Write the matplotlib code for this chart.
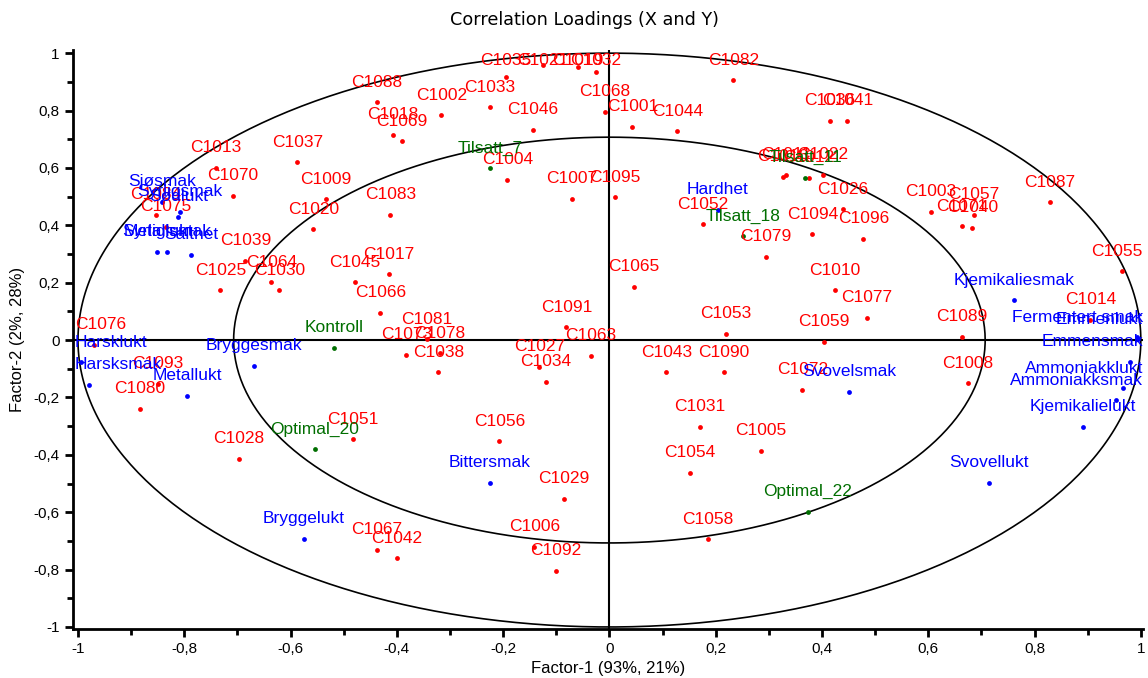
import numpy as np
import matplotlib
matplotlib.use("Agg")
import matplotlib.pyplot as plt
from matplotlib.ticker import MultipleLocator, FuncFormatter

plt.rcParams['font.family'] = ['Liberation Sans', 'DejaVu Sans']

# X-variabler (konsumenter) - rød
c_names = ['C1013', 'C1070', 'C1037', 'C1009', 'C1020', 'C1084', 'C1075', 'C1039', 'C1064', 'C1030',
           'C1025', 'C1076', 'C1093', 'C1080', 'C1028', 'C1051', 'C1045', 'C1017', 'C1066', 'C1081',
           'C1073', 'C1078', 'C1038', 'C1088', 'C1018', 'C1069', 'C1002', 'C1033', 'C1046', 'C1004',
           'C1083', 'C1007', 'C1095', 'C1068', 'C1001', 'C1035', 'C1021', 'C1019', 'C1032',
           'C1082', 'C1036', 'C1041', 'C1044', 'C1016', 'C1011', 'C1012', 'C1022', 'C1052', 'C1079',
           'C1026', 'C1094', 'C1096', 'C1087', 'C1003', 'C1057', 'C1071', 'C1040', 'C1091', 'C1063',
           'C1027', 'C1034', 'C1065', 'C1010', 'C1077', 'C1059', 'C1053', 'C1043', 'C1090', 'C1072',
           'C1031', 'C1055', 'C1014', 'C1089', 'C1008', 'C1005', 'C1054', 'C1058', 'C1056', 'C1029',
           'C1006', 'C1092', 'C1067', 'C1042']
c_x = [-0.741, -0.709, -0.587, -0.533, -0.557, -0.853, -0.834, -0.685, -0.636, -0.621,
       -0.732, -0.969, -0.849, -0.883, -0.697, -0.482, -0.479, -0.415, -0.431, -0.344,
       -0.382, -0.319, -0.322, -0.437, -0.407, -0.391, -0.316, -0.225, -0.144, -0.192,
       -0.412, -0.071, 0.010, -0.008, 0.043, -0.195, -0.125, -0.059, -0.026,
       0.233, 0.415, 0.448, 0.128, 0.327, 0.333, 0.376, 0.402, 0.176, 0.294,
       0.439, 0.382, 0.478, 0.829, 0.605, 0.686, 0.663, 0.683, -0.081, -0.035,
       -0.132, -0.119, 0.046, 0.424, 0.484, 0.403, 0.219, 0.107, 0.216, 0.363,
       0.170, 0.964, 0.905, 0.663, 0.675, 0.285, 0.152, 0.185, -0.207, -0.086,
       -0.141, -0.101, -0.437, -0.400]
c_y = [0.600, 0.503, 0.620, 0.491, 0.386, 0.437, 0.395, 0.276, 0.201, 0.173,
       0.173, -0.016, -0.153, -0.240, -0.415, -0.346, 0.201, 0.229, 0.095, 0.002,
       -0.051, -0.046, -0.113, 0.828, 0.715, 0.693, 0.783, 0.811, 0.733, 0.559,
       0.437, 0.492, 0.498, 0.795, 0.743, 0.917, 0.958, 0.950, 0.933,
       0.906, 0.765, 0.765, 0.727, 0.570, 0.576, 0.566, 0.575, 0.403, 0.290,
       0.456, 0.369, 0.352, 0.480, 0.447, 0.436, 0.397, 0.391, 0.045, -0.056,
       -0.094, -0.146, 0.185, 0.173, 0.078, -0.007, 0.022, -0.113, -0.113, -0.173,
       -0.302, 0.240, 0.070, 0.012, -0.151, -0.387, -0.463, -0.694, -0.353, -0.554,
       -0.720, -0.805, -0.732, -0.761]

# Y-variabler (sensorikk) - blå
s_names = ['Sjøsmak', 'Syrligsmak', 'Sødlukt', 'Metallsmak', 'Syrliglukt', 'Salthet',
           'Harsklukt', 'Harsksmak', 'Metallukt', 'Bryggesmak', 'Bryggelukt', 'Bittersmak',
           'Hardhet', 'Svovelsmak', 'Svovellukt', 'Kjemikaliesmak', 'Kjemikalielukt',
           'Ammoniakksmak', 'Ammoniakklukt', 'Emmensmak', 'Emmenlukt', 'Fermentert smak']
s_x = [-0.841, -0.808, -0.811, -0.832, -0.851, -0.787,
       -0.995, -0.980, -0.795, -0.669, -0.575, -0.225,
       0.204, 0.451, 0.714, 0.762, 0.891,
       0.953, 0.967, 0.979, 0.995, 0.993]
s_y = [0.482, 0.447, 0.430, 0.308, 0.308, 0.297,
       -0.078, -0.156, -0.195, -0.089, -0.693, -0.497,
       0.453, -0.180, -0.497, 0.139, -0.302,
       -0.210, -0.168, -0.076, 0.003, 0.010]

# Prøver - grønn
p_names = ['Tilsatt_7', 'Tilsatt_11', 'Tilsatt_18', 'Kontroll', 'Optimal_20', 'Optimal_22']
p_x = [-0.225, 0.369, 0.252, -0.518, -0.554, 0.373]
p_y = [0.598, 0.566, 0.362, -0.028, -0.381, -0.598]

fig = plt.figure(figsize=(11.48, 6.78), dpi=100)
ax = fig.add_axes([0.0633, 0.0727, 0.9323, 0.854])
ax.set_xlim(-1.01, 1.004)
ax.set_ylim(-1.006, 1.012)

# ellipser for 100% og 50% forklart varians
t = np.linspace(0, 2 * np.pi, 400)
for r in [1.0, np.sqrt(0.5)]:
    ax.plot(r * np.cos(t), r * np.sin(t), color='black', lw=1.2, clip_on=False)
ax.axhline(0, color='black', lw=1.5)
ax.axvline(0, color='black', lw=1.5)

texts = []
for names, xs, ys, col in [(c_names, c_x, c_y, '#ff0000'),
                           (s_names, s_x, s_y, '#0000ff'),
                           (p_names, p_x, p_y, '#006e00')]:
    ax.scatter(xs, ys, s=12, color=col, zorder=3, linewidths=0)
    for n, x, y in zip(names, xs, ys):
        a = ax.annotate(n, (x, y), xytext=(0, 14.5), textcoords='offset points',
                        ha='center', va='center', color=col, fontsize=12.5, zorder=4)
        texts.append(a)

ax.spines['top'].set_visible(False)
ax.spines['right'].set_visible(False)
ax.spines['left'].set_linewidth(2)
ax.spines['bottom'].set_linewidth(2)

fmt = FuncFormatter(lambda v, p: ('%g' % round(v, 2)).replace('.', ','))
ax.xaxis.set_major_locator(MultipleLocator(0.2))
ax.yaxis.set_major_locator(MultipleLocator(0.2))
ax.xaxis.set_minor_locator(MultipleLocator(0.1))
ax.yaxis.set_minor_locator(MultipleLocator(0.1))
ax.xaxis.set_major_formatter(fmt)
ax.yaxis.set_major_formatter(fmt)
ax.tick_params(which='major', length=6, width=2, labelsize=11, direction='out')
ax.tick_params(which='minor', length=4, width=2, direction='out')

fig.text(584 / 1148, 1 - 20 / 678, 'Correlation Loadings (X and Y)', ha='center', va='center',
         fontsize=12.7, family='DejaVu Sans')
ax.set_xlabel('Factor-1 (93%, 21%)', fontsize=12, labelpad=4)
ax.set_ylabel('Factor-2 (2%, 28%)', fontsize=12, labelpad=6)

# hold etikettene innenfor plottområdet
fig.canvas.draw()
rend = fig.canvas.get_renderer()
ab = ax.get_window_extent(rend)
top = ax.transData.transform((0, 1.0))[1]
for a in texts:
    bb = a.get_window_extent(rend)
    dx = dy = 0
    if bb.x1 > ab.x1:
        dx = ab.x1 - bb.x1
    elif bb.x0 < ab.x0:
        dx = ab.x0 - bb.x0 + 2
    if bb.y1 > top:
        dy = top - bb.y1
    if dx or dy:
        ox, oy = a.xyann
        a.xyann = (ox + dx * 72 / fig.dpi, oy + dy * 72 / fig.dpi)

fig.savefig('out.png', dpi=100)
